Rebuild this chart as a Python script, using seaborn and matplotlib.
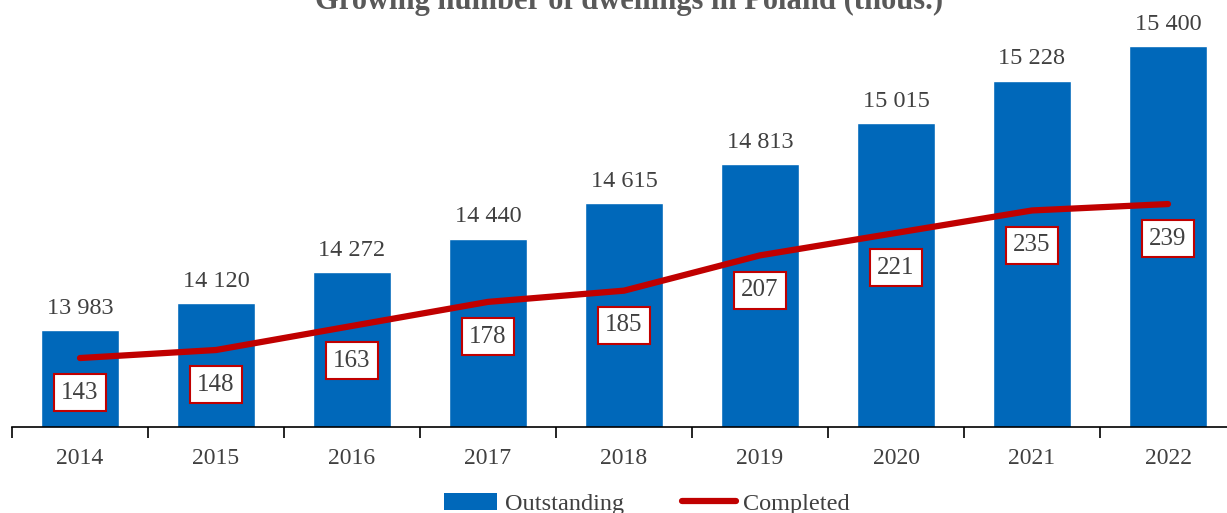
import numpy as np
import pandas as pd
import matplotlib.pyplot as plt
import seaborn as sns
from matplotlib.patches import Patch
from matplotlib.lines import Line2D

years = ['2014', '2015', '2016', '2017', '2018', '2019', '2020', '2021', '2022']
outstanding = [13983, 14120, 14272, 14440, 14615, 14813, 15015, 15228, 15400]
completed = [143, 148, 163, 178, 185, 207, 221, 235, 239]

blue = '#0068BA'
red = '#C00000'
grey = '#404040'

sns.set_theme(style='white')
plt.rcParams['font.family'] = ['Liberation Serif', 'DejaVu Serif']

df = pd.DataFrame({'year': years, 'outstanding': outstanding, 'completed': completed})

fig = plt.figure(figsize=(12.27, 5.13), dpi=100)
ax = fig.add_axes([12 / 1227, 86 / 513, 1224 / 1227, 401 / 513])

sns.barplot(data=df, x='year', y='outstanding', color=blue, width=0.57,
            saturation=1, ax=ax)
ax.set_ylim(13500, 15500)
ax.set_xlim(-0.5, len(years) - 0.5)

# bar value labels, thousands separated by a space
for i, v in enumerate(outstanding):
    txt = f'{v:,}'.replace(',', ' ')
    ax.annotate(txt, (i, v), xytext=(0, 8), textcoords='offset points',
                ha='center', va='bottom', fontsize=17.5, color=grey,
                annotation_clip=False)

ax2 = ax.twinx()
sns.lineplot(x=np.arange(len(years)), y=completed, color=red, linewidth=4.5,
             ax=ax2, solid_capstyle='round', solid_joinstyle='round')
ax2.set_ylim(100, 350)

for i, v in enumerate(completed):
    ax2.annotate(str(v), (i, v), xytext=(0, -25), textcoords='offset points',
                 ha='center', va='center', fontsize=18, color=grey,
                 bbox=dict(boxstyle='square,pad=0.3', fc='white', ec=red, lw=1.5))

for a in (ax, ax2):
    for s in ('top', 'right', 'left'):
        a.spines[s].set_visible(False)
    a.set_yticks([])
    a.set_ylabel('')
ax2.spines['bottom'].set_visible(False)
ax.spines['bottom'].set_color('black')
ax.spines['bottom'].set_linewidth(1.2)

ax.set_xlabel('')
ax.set_xticks(range(len(years)))
ax.set_xticklabels(years, fontsize=17, color=grey)
ax.set_xticks(np.arange(-0.5, len(years)), minor=True)
ax.tick_params(axis='x', which='major', length=0, pad=15)
ax.tick_params(axis='x', which='minor', length=8, width=1.2, color='black',
               direction='out', bottom=True)

fig.text(0.513, 1 - 9 / 513, 'Growing number of dwellings in Poland (thous.)',
         ha='center', va='baseline', fontsize=22, fontweight='bold', color='#595959')

handles = [Patch(facecolor=blue, edgecolor='none'),
           Line2D([0], [0], color=red, linewidth=4.5, solid_capstyle='round')]
fig.legend(handles, ['Outstanding', 'Completed'], loc='center',
           bbox_to_anchor=(0.527, 1 - 504 / 513), ncol=2, frameon=False,
           fontsize=17.5, labelcolor=grey, handlelength=2.2, handletextpad=0.3,
           columnspacing=2.4)

fig.savefig('out.png', dpi=100)
